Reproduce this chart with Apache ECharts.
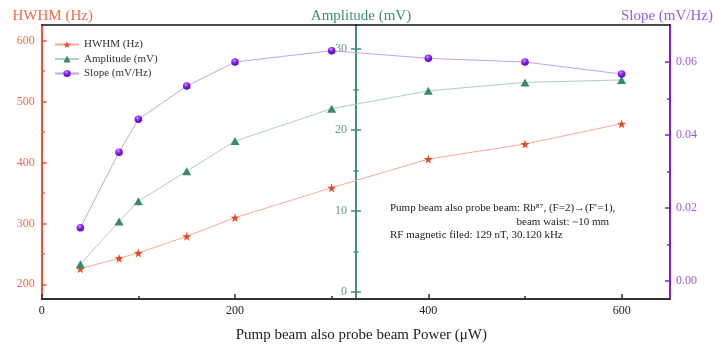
<!DOCTYPE html>
<html>
<head>
<meta charset="utf-8">
<script src="https://cdn.jsdelivr.net/npm/echarts@6/dist/echarts.min.js"></script>
<style>
html,body{margin:0;padding:0;background:#fff}
#chart{width:716px;height:349px}
</style>
</head>
<body>
<div id="chart"></div>
<script>
// pump power (uW)
let power = [40, 80, 100, 150, 200, 300, 400, 500, 600]
let hwhm = [225.6, 242.7, 251.4, 278.8, 309.4, 358.6, 405.7, 430.4, 463.7]
let amplitude = [3.4, 8.7, 11.2, 14.9, 18.65, 22.65, 24.85, 25.9, 26.2]
let slope = [0.0146, 0.0353, 0.0443, 0.0534, 0.0600, 0.0631, 0.0610, 0.0600, 0.0567]

let xTicks = [0, 200, 400, 600]
let xMinor = [100, 300, 500]
let hwhmTicks = [200, 300, 400, 500, 600]
let hwhmMinor = [250, 350, 450, 550]
let ampTicks = [0, 10, 20, 30]
let ampMinor = [5, 15, 25]
let slopeTicks = [0, 0.02, 0.04, 0.06]
let slopeMinor = [0.01, 0.03, 0.05]

const FONT = "Liberation Serif"
const RED = "#e8582e", RED_TXT = "#f06a48"
const GREEN = "#3f8f73", GREEN_TXT = "#5c9c84"
const PURPLE = "#7a1fe0", PURPLE_TXT = "#9a5ae8"
const STAR = "path://M50,0 L61,35 L98,35 L68,57 L79,91 L50,70 L21,91 L32,57 L2,35 L39,35 Z"

let chart = echarts.init(document.getElementById("chart"))

/** extra axis that only draws ticks */
function tickAxis(base){
    return Object.assign({
        type:"value",
        axisLine:{show:false, onZero:false},
        axisLabel:{show:false},
        splitLine:{show:false}
    }, base)
}

let hwhmRange = {min:175.9, max:625.8}
let ampRange = {min:-0.9, max:33.0}
let slopeRange = {min:-0.00493, max:0.07014}
let xRange = {min:0, max:650}
let ampOffset = -314.3

let option = {
    animation:false,
    backgroundColor:"#fff",
    grid:{left:41.7, right:45, top:25, bottom:50, containLabel:false},
    legend:{
        left:49, top:34, orient:"vertical",
        itemWidth:24, itemHeight:9, itemGap:3.5,
        textStyle:{fontFamily:FONT, fontSize:11, color:"#333"},
        data:["HWHM (Hz)","Amplitude (mV)","Slope (mV/Hz)"]
    },
    xAxis:[
        {
            type:"value", min:xRange.min, max:xRange.max, position:"bottom",
            name:"Pump beam also probe beam Power (\u03bcW)", nameLocation:"middle", nameGap:29,
            nameTextStyle:{fontFamily:FONT, fontSize:15, color:"#222", padding:[0,0,0,11]},
            axisLine:{onZero:false, lineStyle:{color:"#333", width:2}},
            axisTick:{inside:true, length:5, customValues:xTicks, lineStyle:{color:"#333", width:1.5}},
            axisLabel:{customValues:xTicks, margin:6, fontFamily:FONT, fontSize:12, color:"#222"},
            splitLine:{show:false}
        },
        tickAxis({min:xRange.min, max:xRange.max, position:"bottom",
            axisTick:{show:true, inside:true, length:3, customValues:xMinor, lineStyle:{color:"#333", width:1.5}}}),
        {
            type:"value", min:xRange.min, max:xRange.max, position:"top",
            axisLine:{onZero:false, lineStyle:{color:"#111", width:1.5}},
            axisTick:{show:false}, axisLabel:{show:false}, splitLine:{show:false}
        }
    ],
    yAxis:[
        {
            type:"value", min:hwhmRange.min, max:hwhmRange.max, position:"left",
            name:"HWHM (Hz)", nameLocation:"end", nameGap:1,
            nameTextStyle:{fontFamily:FONT, fontSize:15, color:RED_TXT, padding:[0,0,0,22]},
            axisLine:{show:true, onZero:false, lineStyle:{color:RED, width:2}},
            axisTick:{show:true, inside:true, length:5, customValues:hwhmTicks, lineStyle:{color:RED, width:1.5}},
            axisLabel:{customValues:hwhmTicks, margin:7, fontFamily:FONT, fontSize:12, color:RED_TXT},
            splitLine:{show:false}
        },
        tickAxis({min:hwhmRange.min, max:hwhmRange.max, position:"left",
            axisTick:{show:true, inside:true, length:3, customValues:hwhmMinor, lineStyle:{color:RED, width:1.5}}}),
        {
            type:"value", min:ampRange.min, max:ampRange.max, position:"left", offset:ampOffset,
            name:"Amplitude (mV)", nameLocation:"end", nameGap:1,
            nameTextStyle:{fontFamily:FONT, fontSize:15, color:GREEN, padding:[0,0,0,10]},
            axisLine:{show:true, onZero:false, lineStyle:{color:GREEN, width:2}},
            axisTick:{show:true, inside:false, length:5, customValues:ampTicks, lineStyle:{color:GREEN, width:1.5}},
            axisLabel:{customValues:ampTicks, margin:9, fontFamily:FONT, fontSize:12, color:GREEN_TXT},
            splitLine:{show:false}
        },
        tickAxis({min:ampRange.min, max:ampRange.max, position:"left", offset:ampOffset,
            axisTick:{show:true, inside:true, length:5, customValues:ampTicks, lineStyle:{color:GREEN, width:1.5}}}),
        tickAxis({min:ampRange.min, max:ampRange.max, position:"left", offset:ampOffset,
            axisTick:{show:true, inside:true, length:2.5, customValues:ampMinor, lineStyle:{color:GREEN, width:1.5}}}),
        tickAxis({min:ampRange.min, max:ampRange.max, position:"left", offset:ampOffset,
            axisTick:{show:true, inside:false, length:2.5, customValues:ampMinor, lineStyle:{color:GREEN, width:1.5}}}),
        {
            type:"value", min:slopeRange.min, max:slopeRange.max, position:"right",
            name:"Slope (mV/Hz)", nameLocation:"end", nameGap:1,
            nameTextStyle:{fontFamily:FONT, fontSize:15, color:PURPLE_TXT, padding:[0,6,0,0]},
            axisLine:{show:true, onZero:false, lineStyle:{color:PURPLE, width:2}},
            axisTick:{show:true, inside:true, length:5, customValues:slopeTicks, lineStyle:{color:PURPLE, width:1.5}},
            axisLabel:{customValues:slopeTicks, margin:6, fontFamily:FONT, fontSize:12, color:PURPLE_TXT,
                formatter:v=>v.toFixed(2)},
            splitLine:{show:false}
        },
        tickAxis({min:slopeRange.min, max:slopeRange.max, position:"right",
            axisTick:{show:true, inside:true, length:3, customValues:slopeMinor, lineStyle:{color:PURPLE, width:1.5}}})
    ],
    graphic:[
        {type:"text", x:390, y:208.5, style:{text:"Pump beam also probe beam: Rb\u2078\u2077, (F=2)\u2192(F\u2032=1),", fontFamily:FONT, fontSize:11, fill:"#222", verticalAlign:"middle"}},
        {type:"text", x:609, y:222, style:{text:"beam waist: ~10 mm", fontFamily:FONT, fontSize:11, fill:"#222", align:"right", verticalAlign:"middle"}},
        {type:"text", x:390, y:235.5, style:{text:"RF magnetic filed: 129 nT, 30.120 kHz", fontFamily:FONT, fontSize:11, fill:"#222", verticalAlign:"middle"}}
    ],
    series:[
        {
            name:"HWHM (Hz)", type:"line", xAxisIndex:0, yAxisIndex:0,
            data:power.map((p,i)=>[p, hwhm[i]]),
            symbol:STAR, symbolSize:9,
            itemStyle:{color:"#e8461c"},
            lineStyle:{color:"#f3ab9b", width:1}
        },
        {
            name:"Amplitude (mV)", type:"line", xAxisIndex:0, yAxisIndex:2,
            data:power.map((p,i)=>[p, amplitude[i]]),
            symbol:"triangle", symbolSize:[9,8],
            itemStyle:{color:"#3a8a6c"},
            lineStyle:{color:"#b3cdc2", width:1}
        },
        {
            name:"Slope (mV/Hz)", type:"line", xAxisIndex:0, yAxisIndex:6,
            data:power.map((p,i)=>[p, slope[i]]),
            symbol:"circle", symbolSize:7.5,
            itemStyle:{color:new echarts.graphic.RadialGradient(0.4,0.3,0.7,[
                {offset:0, color:"#c89cff"},
                {offset:0.45, color:"#8a22f0"},
                {offset:1, color:"#5a06b8"}
            ])},
            lineStyle:{color:"#c3a4f2", width:1}
        }
    ]
}
chart.setOption(option)
</script>
</body>
</html>
